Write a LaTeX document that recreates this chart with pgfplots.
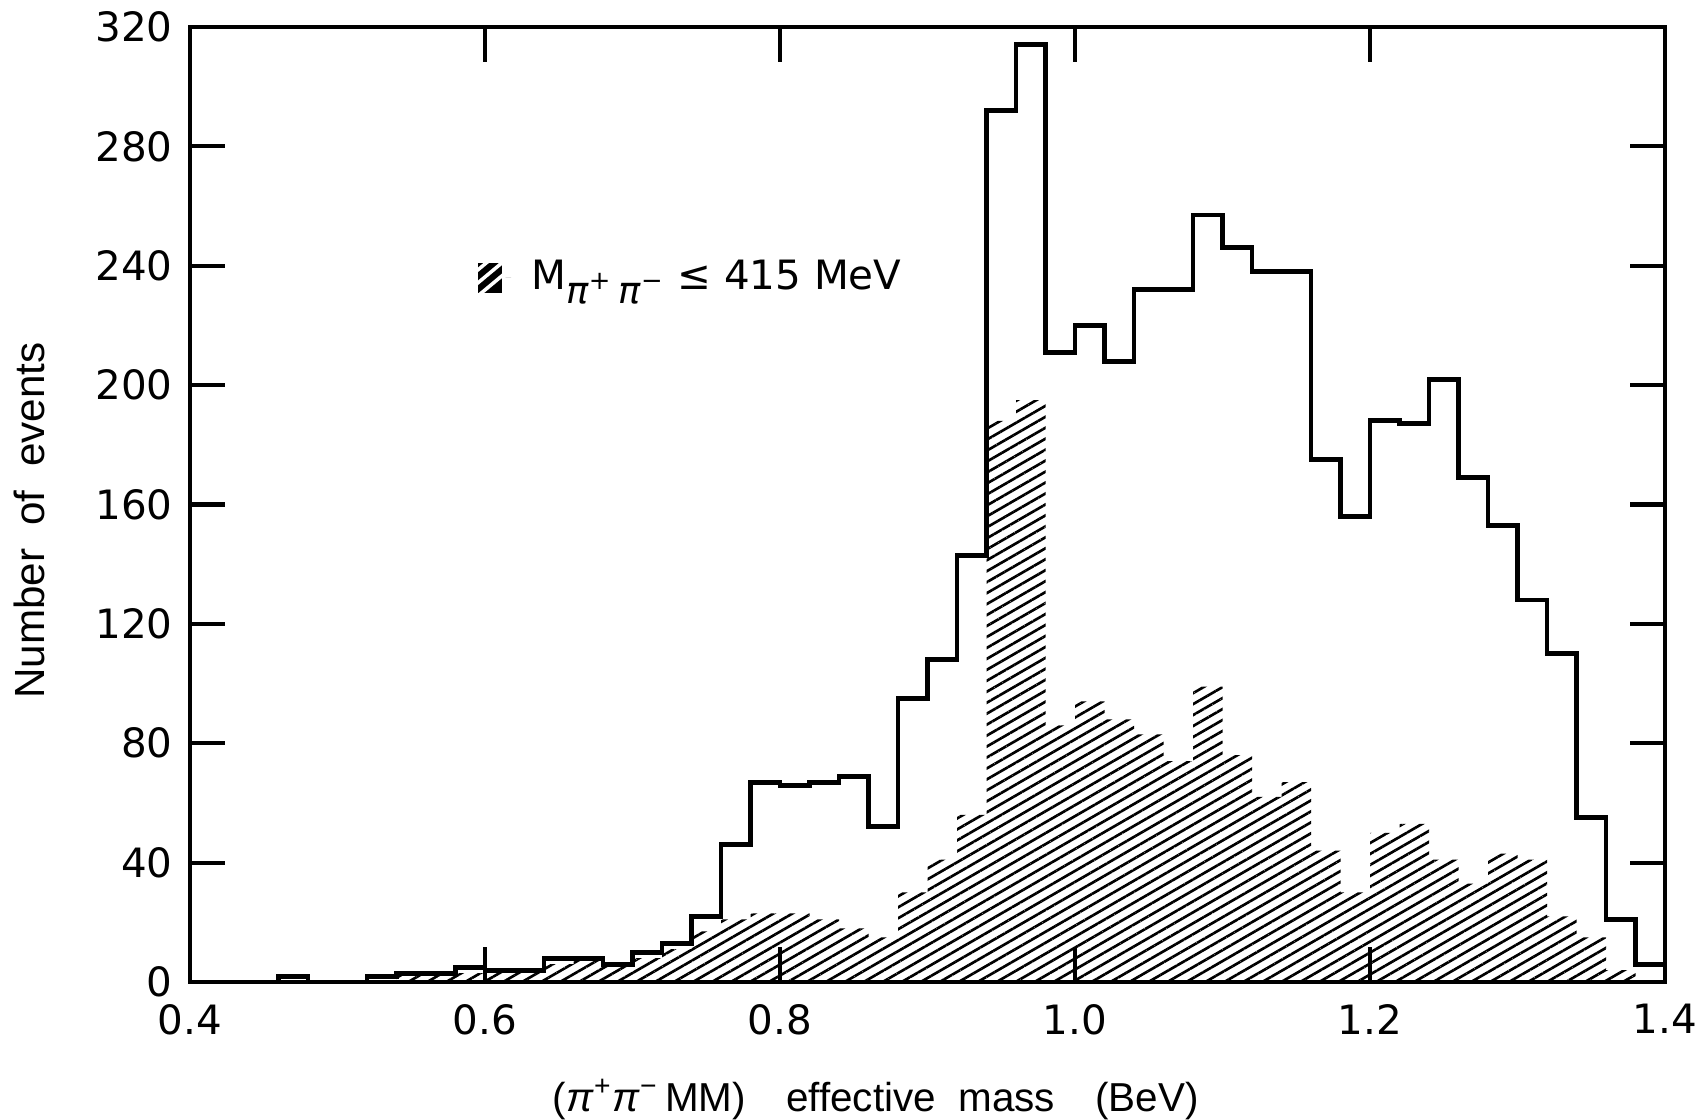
\documentclass[border=0pt]{standalone}
\usepackage{pgfplots}
\pgfplotsset{compat=1.18}
\usepackage{pgfplotstable}
\usetikzlibrary{patterns.meta}
\usepackage{fontspec}
\setmainfont{Liberation Sans}
\newfontfamily\tickfont{DejaVu Sans}

% bin left edge, all events, events with M(pi+pi-) <= 415 MeV
\pgfplotstableread{
x     total  low
0.40  0      0
0.42  0      0
0.44  0      0
0.46  2      0
0.48  0      0
0.50  0      0
0.52  2      0
0.54  3      2
0.56  3      2
0.58  5      3
0.60  4      3
0.62  4      3
0.64  8      6
0.66  8      7
0.68  6      5
0.70  10     8
0.72  13     11
0.74  22     17
0.76  46     21
0.78  67     23
0.80  66     23
0.82  67     21
0.84  69     18
0.86  52     15
0.88  95     30
0.90  108    41
0.92  143    56
0.94  292    188
0.96  314    195
0.98  211    86
1.00  220    94
1.02  208    88
1.04  232    83
1.06  232    74
1.08  257    99
1.10  246    76
1.12  238    62
1.14  238    67
1.16  175    44
1.18  156    30
1.20  188    50
1.22  187    53
1.24  202    41
1.26  169    33
1.28  153    43
1.30  128    41
1.32  110    22
1.34  55     15
1.36  21     4
1.38  6      0
1.40  6      0
}\massdata

\begin{document}
\begin{tikzpicture}
% page extent around the 14.75cm x 9.55cm frame
\useasboundingbox (-1.90cm,-1.37cm) rectangle (15.11cm,9.82cm);
\begin{axis}[
  at={(0,0)}, anchor=south west,
  scale only axis,
  width=14.75cm, height=9.55cm,
  xmin=0.4, xmax=1.4, ymin=0, ymax=320,
  clip=false,
  axis line style={line width=1.4pt},
  every tick/.style={line width=1.2pt, black},
  major tick length=3.5mm,
  tick align=inside,
  xtick={0.4,0.6,0.8,1.0,1.2,1.4},
  ytick={0,40,80,120,160,200,240,280,320},
  minor tick num=0,
  /pgf/number format/assume math mode=true,
  xticklabel style={/pgf/number format/fixed, /pgf/number format/fixed zerofill,
    /pgf/number format/precision=1, font=\tickfont\fontsize{11.5}{13}\selectfont, yshift=-1mm},
  yticklabel style={font=\tickfont\fontsize{11.5}{13}\selectfont, xshift=-0.5mm},
  scaled x ticks=false,
  xlabel={(\textit{π}\textsuperscript{+}\textit{π}\textsuperscript{−}\,MM)\quad effective\ \ mass\quad (BeV)},
  xlabel style={at={(axis description cs:0.465,-0.123)}, anchor=center,
    font=\fontsize{11.5}{13}\selectfont},
  ylabel={Number\ \ of\ \ events},
  ylabel style={at={(axis description cs:-0.109,0.483)}, anchor=center,
    font=\fontsize{12}{14}\selectfont},
  legend style={at={(axis cs:0.595,236)}, anchor=west, draw=none, fill=none,
    inner sep=0pt, font=\tickfont\fontsize{11.5}{14}\selectfont},
  legend cell align=left,
]
  % events with a low pi+pi- mass: hatched histogram
  \addplot[const plot, draw=none,
    pattern={Lines[angle=30, distance=2.7pt, line width=0.75pt]}, pattern color=black,
    legend image code/.code={
      \fill[black] (0mm,-1.5mm) rectangle (2.4mm,1.5mm);
      \begin{scope}
        \clip (0.3mm,-1.2mm) rectangle (2.1mm,1.2mm);
        \draw[white, line width=0.35mm] (-0.5mm,-0.9mm) -- (2.5mm,1.6mm);
        \draw[white, line width=0.35mm] (-0.5mm,-2.2mm) -- (2.5mm,0.3mm);
        \draw[white, line width=0.35mm] (-0.5mm,0.4mm) -- (2.5mm,2.9mm);
      \end{scope}
      \path (0,0) -- (4.6mm,0);
    }]
    table[x=x, y=low] {\massdata} \closedcycle;
  \addlegendentry{M\raisebox{-0.6ex}{\fontsize{10.5}{12}\selectfont\textit{π}\textsuperscript{+}\,\textit{π}\textsuperscript{−}}\ ≤ 415 MeV}

  % all events: outlined histogram
  \addplot[const plot, line width=1.4pt, black, forget plot]
    table[x=x, y=total] {\massdata};
\end{axis}
\end{tikzpicture}
\end{document}
